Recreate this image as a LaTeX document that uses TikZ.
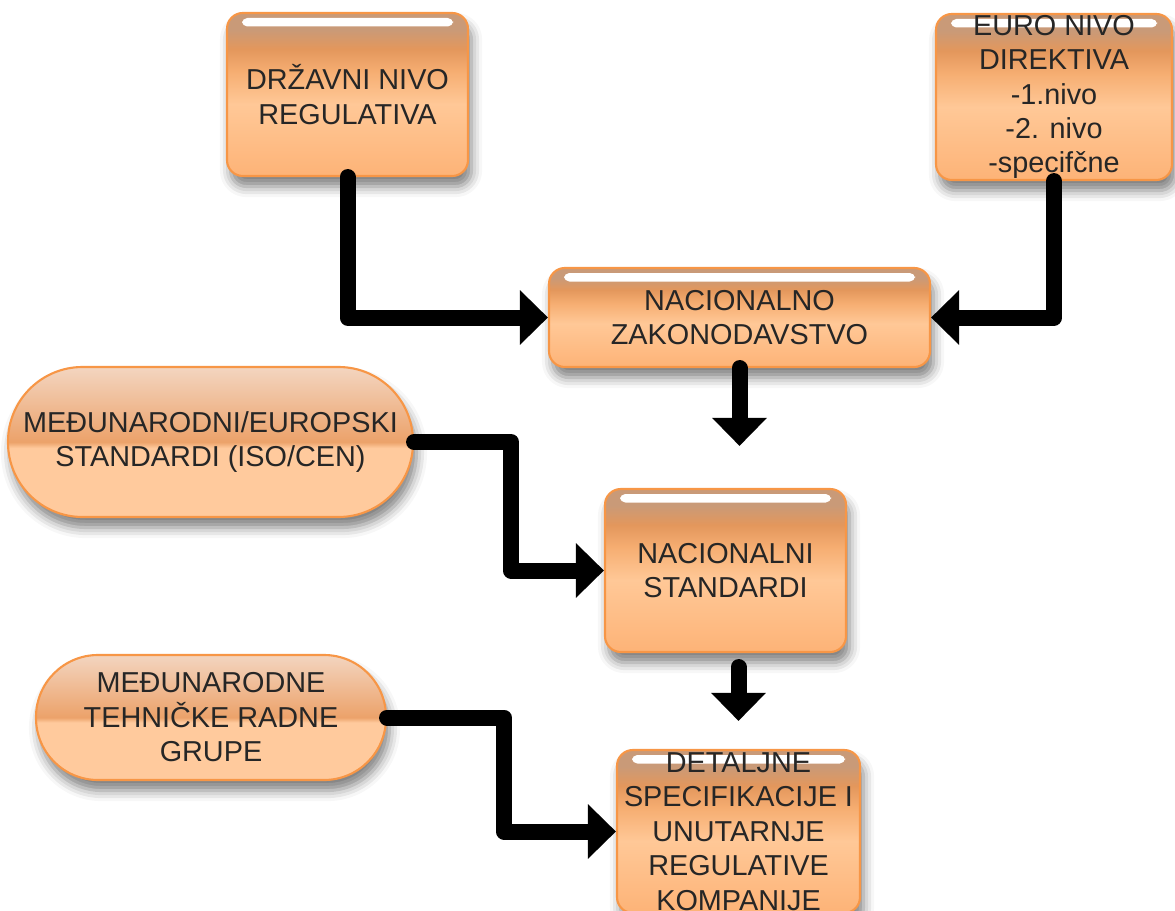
\documentclass[tikz,border=0pt]{standalone}
\usepackage{fontspec}
\setmainfont{Liberation Sans}
\usetikzlibrary{arrows.meta,calc,shadows.blur}

\definecolor{boxline}{HTML}{F79646}
\definecolor{orgtan}{HTML}{C99A78}
\definecolor{orgdark}{HTML}{E3975C}
\definecolor{orgmid}{HTML}{F6AE72}
\definecolor{orglight}{HTML}{FFC897}
\definecolor{orgbot}{HTML}{FDB377}
\definecolor{pilltop}{HTML}{F3D5C0}
\definecolor{pillband}{HTML}{ECA26A}
\definecolor{pillbot}{HTML}{FFCA9D}
\definecolor{txtgray}{HTML}{262626}

% gloss shadings (path spans 25bp..75bp, bottom to top)
\pgfdeclareverticalshading{glossrect}{100bp}{%
  color(0bp)=(orgbot); color(25bp)=(orgbot); color(47bp)=(orglight);
  color(57bp)=(orgmid); color(64bp)=(orgdark); color(70bp)=(orgtan);
  color(100bp)=(orgtan)}
\pgfdeclareverticalshading{glosspill}{100bp}{%
  color(0bp)=(pillbot); color(48bp)=(pillbot); color(50bp)=(pillband);
  color(75bp)=(pilltop); color(100bp)=(pilltop)}

\tikzset{
  every node/.style={text=txtgray, font=\fontsize{16.4}{19.6}\selectfont, align=center},
  glossbox/.style={draw=boxline, line width=1.2pt, rounded corners=9pt,
    shade, shading=glossrect, inner sep=0pt,
    blur shadow={shadow xshift=2pt, shadow yshift=-6pt, shadow blur radius=6pt, shadow opacity=50},
    path picture={\fill[white, rounded corners=3pt]
      ([xshift=0.3cm,yshift=-0.1cm]path picture bounding box.north west) rectangle
      ([xshift=-0.3cm,yshift=-0.27cm]path picture bounding box.north east);}},
  pill/.style={glossbox, shading=glosspill, path picture={}},
  flow/.style={line width=0.32cm, line cap=round, line join=round,
    -{Triangle[width=1.06cm,length=0.56cm]}}
}

\begin{document}
\begin{tikzpicture}
\useasboundingbox (0,0) rectangle (23.5,-18.22);

% ---------------- Regulation boxes ----------------
\node[glossbox, minimum width=4.82cm, minimum height=3.26cm] (drzavni) at (6.95,-1.89)
  {DRŽAVNI NIVO\\REGULATIVA};
\node[glossbox, minimum width=4.72cm, minimum height=3.32cm, inner ysep=-6pt] (euro) at (21.08,-1.94)
  {EURO NIVO\\DIREKTIVA\\-1.nivo\\-2. nivo\\-specifčne};
\node[glossbox, minimum width=7.62cm, minimum height=1.98cm] (zakon) at (14.79,-6.35)
  {NACIONALNO\\ZAKONODAVSTVO};

% ---------------- Standards ----------------
\node[pill, rounded corners=1.49cm, minimum width=8.1cm, minimum height=3cm] (medstd) at (4.21,-8.84)
  {MEĐUNARODNI/EUROPSKI\\STANDARDI (ISO/CEN)};
\node[glossbox, minimum width=4.82cm, minimum height=3.26cm] (nacstd) at (14.51,-11.41)
  {NACIONALNI\\STANDARDI};

% ---------------- Company level ----------------
\node[pill, rounded corners=1.24cm, minimum width=7cm, minimum height=2.5cm] (radne) at (4.22,-14.35)
  {MEĐUNARODNE\\TEHNIČKE RADNE\\GRUPE};
\node[glossbox, minimum width=4.86cm, minimum height=3.26cm, inner ysep=-6pt] (detalj) at (14.77,-16.63)
  {DETALJNE\\SPECIFIKACIJE I\\UNUTARNJE\\REGULATIVE\\KOMPANIJE};

% ---------------- Flow arrows ----------------
\draw[flow] (drzavni.south) |- (zakon.west);
\draw[flow] (euro.south) |- (zakon.east);
\draw[flow, shorten >=0.84cm] (zakon.south) -- (zakon.south |- nacstd.north);
\draw[flow] (medstd.east) -- ++(1.94,0) |- (nacstd.west);
\draw[flow, shorten <=0.28cm, shorten >=0.56cm] (nacstd.south -| detalj.north) -- (detalj.north);
\draw[flow] (radne.east) -- ++(2.34,0) |- (detalj.west);

\end{tikzpicture}
\end{document}
